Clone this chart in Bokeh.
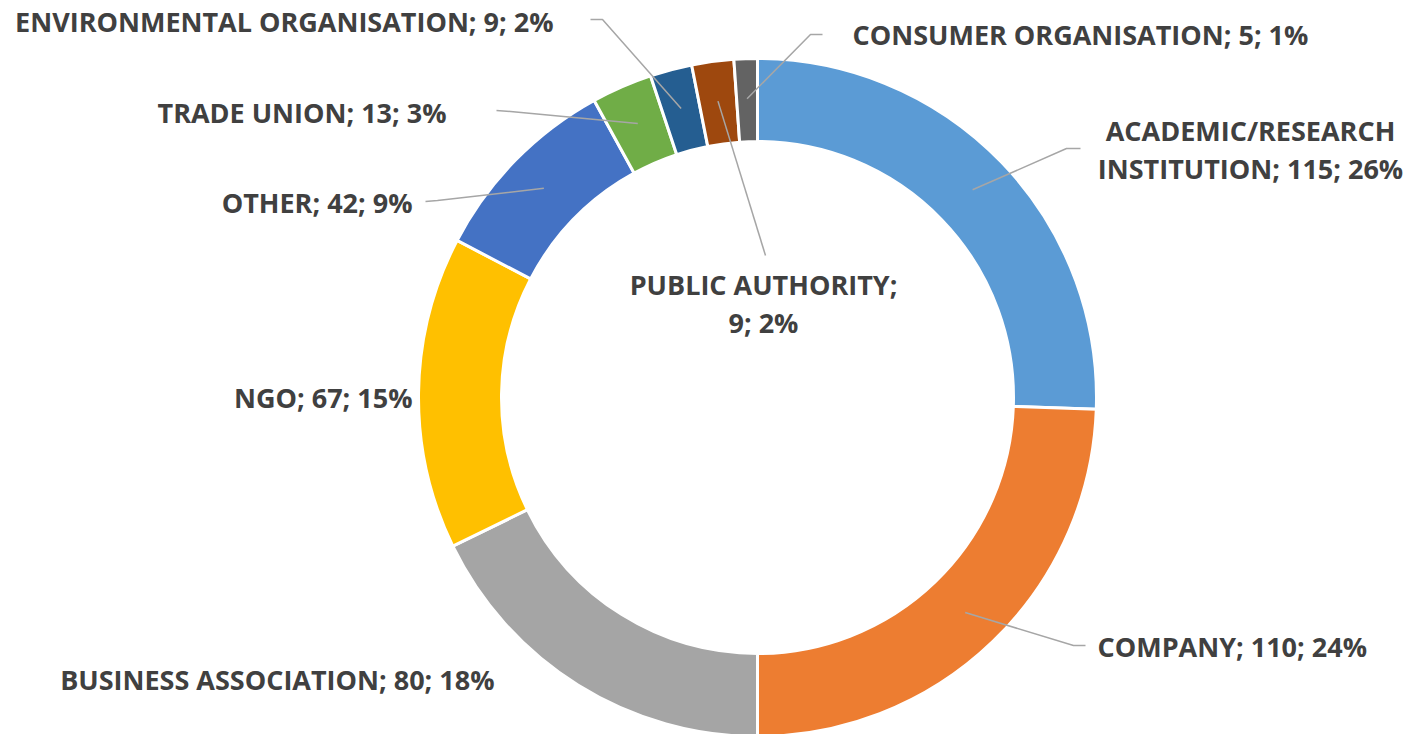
import math
from bokeh.plotting import figure
from bokeh.models import Range1d
from bokeh.core.properties import value
from bokeh.embed import file_html
from bokeh.resources import INLINE

# ---- data ----
categories = ["ACADEMIC/RESEARCH INSTITUTION", "COMPANY", "BUSINESS ASSOCIATION", "NGO",
              "OTHER", "TRADE UNION", "ENVIRONMENTAL ORGANISATION", "PUBLIC AUTHORITY",
              "CONSUMER ORGANISATION"]
counts = [115, 110, 80, 67, 42, 13, 9, 9, 5]
colors = ["#5B9BD5", "#ED7D31", "#A5A5A5", "#FFC000", "#4472C4", "#70AD47",
          "#255E91", "#9E480E", "#636363"]

# ---- layout (pixel positions of labels / leader elbows) ----
W, H = 1417, 734
cx, cy = 757, 397
r_out, r_in, r_anchor = 339, 256, 299
label_pos = [  # x, y, align, line-break text?
    (1250, 149, "center", True),
    (1097, 646, "left", False),
    (494, 679, "right", False),
    (412, 397, "right", False),
    (412, 202, "right", False),
    (446, 112, "right", False),
    (553, 21, "right", False),
    (763, 303, "center", True),
    (852, 34, "left", False),
]
elbows = [
    [(1080, 148), (1066, 148)],
    [(1085, 645), (1073, 645)],
    None,
    None,
    [(425, 201), (437, 200)],
    [(496, 110), (510, 111)],
    [(590, 19), (602, 19)],
    [(765, 255)],
    [(822, 34), (810, 34)],
]

total = sum(counts)
p = figure(width=W, height=H, output_backend="svg", toolbar_location=None,
           x_range=Range1d(0, W), y_range=Range1d(-H, 0),
           x_axis_type=None, y_axis_type=None, min_border=0)
p.outline_line_color = None
p.grid.visible = False
p.background_fill_color = "white"

starts, ends, mids = [], [], []
cum = 0
for c in counts:
    a0 = math.pi / 2 - cum / total * 2 * math.pi
    cum += c
    a1 = math.pi / 2 - cum / total * 2 * math.pi
    starts.append(a0)
    ends.append(a1)
    mids.append((a0 + a1) / 2)

p.annular_wedge(x=[cx] * len(counts), y=[-cy] * len(counts), inner_radius=r_in,
                outer_radius=r_out, start_angle=starts, end_angle=ends,
                direction="clock", fill_color=colors, line_color="white", line_width=3)

# leader lines
xs, ys = [], []
for i, el in enumerate(elbows):
    if el is None:
        continue
    ax = cx + r_anchor * math.cos(mids[i])
    ay = -cy + r_anchor * math.sin(mids[i])
    px = [e[0] for e in el] + [ax]
    py = [-e[1] for e in el] + [ay]
    xs.append(px)
    ys.append(py)
p.multi_line(xs=xs, ys=ys, line_color="#A6A6A6", line_width=1.5)

# labels
for i, name in enumerate(categories):
    pct = round(counts[i] / total * 100)
    x, y, align, brk = label_pos[i]
    if brk:
        if "/" in name:
            first, rest = name.split(" ", 1)
            txt = f"{first}\n{rest}; {counts[i]}; {pct}%"
        else:
            txt = f"{name};\n{counts[i]}; {pct}%"
    else:
        txt = f"{name}; {counts[i]}; {pct}%"
    p.text(x=[x], y=[-y], text=[txt], text_align=align, text_baseline="middle",
           text_font=value("Open Sans"), text_font_style="bold", text_font_size="27px",
           text_color="#404040", text_line_height=1.02)

open("out.html", "w").write(file_html(p, INLINE))
